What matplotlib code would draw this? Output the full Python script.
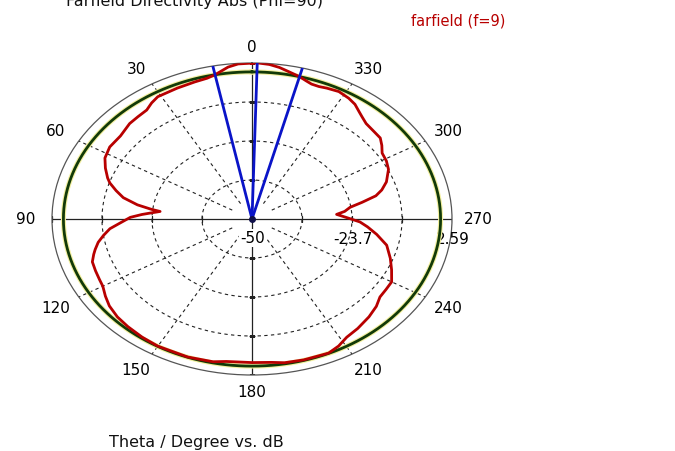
import numpy as np
import matplotlib
matplotlib.use("Agg")
import matplotlib.pyplot as plt

# farfield cut, theta in degrees vs directivity in dB
theta_deg = [0, 4, 7, 11.3, 14, 18, 24, 31, 34, 37, 41, 45, 51, 57, 62, 66, 70,
             72, 75, 78, 81, 83, 84, 85.5, 87, 89, 92, 95, 98, 101, 104, 106,
             109, 113, 117, 120, 124, 128, 133, 138, 144, 150, 160, 168, 172,
             180, 186, 190, 196, 204, 208, 212, 217, 223, 228, 232, 236, 240,
             245, 250, 256, 261, 265, 268, 271, 274, 276, 278.7, 281, 283.5,
             286, 289.5, 295, 299, 303, 306, 309, 313, 317, 320, 322, 325, 328,
             332, 336, 338.5, 341, 343, 345.4, 349, 352, 355, 358, 360]
directivity_db = [2.55, 2.4, 1.6, -0.41, -1.1, -1.4, -1.7, -1.9, -2.8, -4.0,
                  -4.3, -4.5, -5.5, -5.4, -6.2, -7.8, -9.6, -10.7, -13.0, -15.4,
                  -19.5, -23.4, -25.7, -23.5, -21.0, -18.0, -15.5, -12.5, -10.6,
                  -8.8, -7.5, -6.7, -5.6, -5.3, -5.0, -4.7, -3.5, -2.4, -1.6,
                  -1.2, -0.8, -0.5, -0.5, -0.8, -1.5, -1.6, -1.4, -0.8, -0.6,
                  -0.5, -1.5, -3.0, -3.8, -4.9, -6.0, -7.3, -7.5, -7.6, -9.5,
                  -11.3, -13.5, -16.8, -19.5, -21.6, -25.0, -27.7, -25.5, -23.9,
                  -20.5, -16.5, -14.5, -12.5, -10.4, -9.6, -9.2, -7.8, -6.6,
                  -6.4, -6.0, -5.0, -4.2, -2.8, -2.0, -1.35, -1.7, -2.0, -1.9,
                  -1.3, -0.41, 0.6, 1.6, 2.3, 2.59, 2.55]

r_min, r_max = -50.0, 2.59
ring_db = [-36.85, -23.7, -10.55]
radial_labels = ["-50", "-23.7", "2.59"]
radial_label_db = [-50.0, -23.7, 2.59]
angle_ticks = [0, 30, 60, 90, 120, 150, 180, 210, 240, 270, 300, 330]
main_lobe_deg = 358.5
beam_edges_deg = [11.3, 345.4]
level_3db = r_max - 3.0

red = "#b80000"
blue = "#0a14c8"

fig = plt.figure(figsize=(6.75, 4.52), dpi=100)
ax = fig.add_axes([52 / 675, 76 / 452, 400 / 675, 312 / 452], projection="polar")
ax.set_aspect("auto")
ax.set_theta_zero_location("N")
ax.set_theta_direction(1)
ax.set_ylim(r_min, r_max)
ax.grid(False)
ax.set_xticks([])
ax.set_yticks([])
ax.spines["polar"].set_color("#555555")
ax.spines["polar"].set_linewidth(0.9)

full = np.linspace(0, 2 * np.pi, 721)

# dashed level rings and angle spokes
for lev in ring_db:
    ax.plot(full, np.full_like(full, lev), color="#222222", lw=0.8,
            dashes=(3, 3), zorder=1)
for a in angle_ticks:
    if a % 90 == 0:
        continue
    t = np.deg2rad(a)
    ax.plot([t, t], [-44.0, r_max], color="#222222", lw=0.8, dashes=(3, 3),
            zorder=1)

# solid axis cross
for a in (0, 90, 180, 270):
    t = np.deg2rad(a)
    ax.plot([t, t], [r_min, r_max], color="#222222", lw=0.9, zorder=2)
for lev in ring_db + [r_max]:
    ax.plot(np.deg2rad([90, 270]), [lev, lev], ls="none", marker="|",
            ms=5, mew=0.9, color="#222222", zorder=2)
    ax.plot(np.deg2rad([0, 180]), [lev, lev], ls="none", marker="_",
            ms=5, mew=0.9, color="#222222", zorder=2)

# radial value labels under the horizontal axis
for txt, lev in zip(radial_labels, radial_label_db):
    t = np.deg2rad(270)
    bbox = None
    if lev == r_min:
        bbox = dict(facecolor="white", edgecolor="none", pad=1.0)
    ax.annotate(txt, xy=(t, lev), xytext=(1, -19), textcoords="offset pixels",
                ha="center", va="center", fontsize=11, color="black",
                bbox=bbox, zorder=3, annotation_clip=False)

# -3 dB level
ax.plot(full, np.full_like(full, level_3db), color="#f4f0a0", lw=3.6, zorder=4)
ax.plot(full, np.full_like(full, level_3db), color="#123a08", lw=2.0, zorder=5)

# farfield curve
ax.plot(np.deg2rad(theta_deg), directivity_db, color=red, lw=2.0, zorder=6)

# main lobe direction and 3 dB beam edges
for a in [main_lobe_deg] + beam_edges_deg:
    t = np.deg2rad(a)
    ax.plot([t, t], [r_min, r_max], color=blue, lw=2.0, zorder=7)
ax.plot([0], [r_min], marker="o", ms=4, color="#10104a", zorder=8)

# angle labels around the rim
for a in angle_ticks:
    t = np.deg2rad(a)
    s, c = np.sin(t), np.cos(t)
    dx = -s * 20 - np.sign(np.round(s, 6)) * 6
    dy = c * 13 + np.sign(np.round(c, 6)) * 4
    ax.annotate(str(a), xy=(t, r_max), xytext=(dx, dy),
                textcoords="offset pixels", ha="center", va="center",
                fontsize=11, color="black", annotation_clip=False)

fig.text(195 / 675, 1 - 6 / 452, "Farfield Directivity Abs (Phi=90)",
         ha="center", va="baseline", fontsize=11.5, color="#111111")
fig.text(458 / 675, 1 - 26 / 452, "farfield (f=9)", ha="center",
         va="baseline", fontsize=10.5, color=red)
fig.text(196 / 675, 1 - 447 / 452, "Theta / Degree vs. dB", ha="center",
         va="baseline", fontsize=11.5, color="#111111")

fig.savefig("out.png", dpi=100, facecolor="white")
